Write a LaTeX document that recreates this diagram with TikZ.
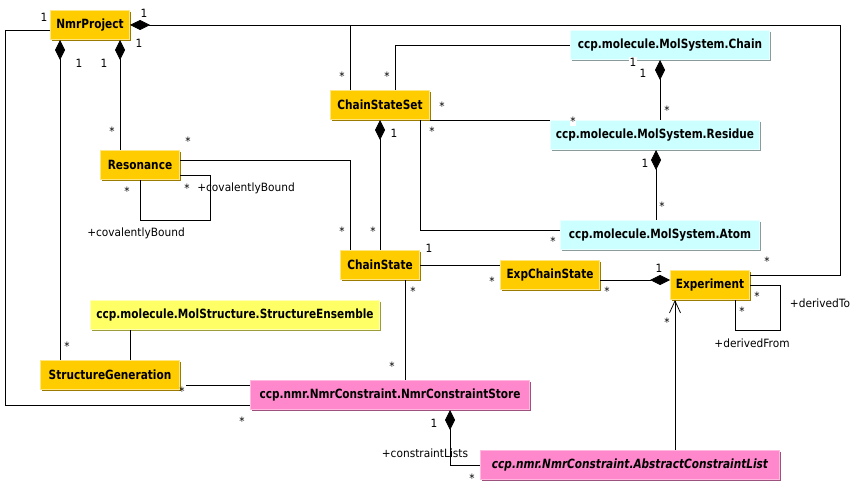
\documentclass[tikz,border=0pt]{standalone}
\usepackage{fontspec}
\setmainfont{DejaVu Sans}
\newfontfamily\boxfont{DejaVu Sans}[FakeStretch=0.83]
\newfontfamily\lblfont{DejaVu Sans}[FakeStretch=0.93]
\usetikzlibrary{arrows.meta,shadows}

\definecolor{classFill}{HTML}{FFCC00}
\definecolor{classLight}{HTML}{FFE680}
\definecolor{classDark}{HTML}{9C7C00}
\definecolor{molFill}{HTML}{CCFFFF}
\definecolor{molLight}{HTML}{EAFFFF}
\definecolor{molDark}{HTML}{8A9B9B}
\definecolor{ensFill}{HTML}{FFFF66}
\definecolor{ensLight}{HTML}{FFFFB8}
\definecolor{ensDark}{HTML}{9C9C3A}
\definecolor{nmrFill}{HTML}{FF88CC}
\definecolor{nmrLight}{HTML}{FFB8E0}
\definecolor{nmrDark}{HTML}{9C527C}

\tikzset{
    box/.style 2 args={fill=#1Fill, draw=#1Light, line width=1pt,
        general shadow={fill=#1Dark, shadow xshift=1.5pt, shadow yshift=-1.5pt},
        minimum width=#2, minimum height=29pt, inner sep=2pt,
        font=\boxfont\bfseries\fontsize{12.7}{14}\selectfont},
    lbl/.style={inner sep=0pt, font=\lblfont\fontsize{11.4}{13}\selectfont},
    link/.style={line width=0.75pt},
    comp/.style={link, {Diamond[length=20pt,width=10pt]}-},
    gen/.style={link, -{Straight Barb[length=12pt,width=11pt]}},
}

\begin{document}
\begin{tikzpicture}[x=1pt, y=-1pt]

    \useasboundingbox (0,0) rectangle (865,495);

    % classes
    \node[box={class}{79pt}] (nmrProject) at (90,25) {NmrProject};
    \node[box={class}{99pt}] (chainStateSet) at (380,105) {ChainStateSet};
    \node[box={mol}{199pt}] (chain) at (670,45) {ccp.molecule.MolSystem.Chain};
    \node[box={mol}{209pt}] (residue) at (655,135) {ccp.molecule.MolSystem.Residue};
    \node[box={class}{79pt}] (resonance) at (140,165) {Resonance};
    \node[box={class}{79pt}] (chainState) at (380,265) {ChainState};
    \node[box={mol}{199pt}] (atom) at (660,235) {ccp.molecule.MolSystem.Atom};
    \node[box={class}{99pt}] (expChainState) at (550,275) {ExpChainState};
    \node[box={class}{79pt}] (experiment) at (710,285) {Experiment};
    \node[box={ens}{289pt}] (ensemble) at (235,315) {ccp.molecule.MolStructure.StructureEnsemble};
    \node[box={class}{139pt}] (structGen) at (110,375) {StructureGeneration};
    \node[box={nmr}{279pt}] (constraintStore) at (390,395) {ccp.nmr.NmrConstraint.NmrConstraintStore};
    \node[box={nmr}{299pt}] (constraintList) at (630,465) {\itshape ccp.nmr.NmrConstraint.AbstractConstraintList};

    % associations
    \draw[comp] (nmrProject.east) -| (840,275) -- ([yshift=10pt]experiment.east);
    \draw[link] ([xshift=-30pt]chainStateSet.north) -- ([xshift=-30pt]chainStateSet.north |- nmrProject.east);
    \draw[link] ([yshift=-5pt]nmrProject.west) -| (5,405) -- ([yshift=-10pt]constraintStore.west);
    \draw[comp] ([xshift=-30pt]nmrProject.south) -- ([xshift=-50pt]structGen.north);
    \draw[comp] ([xshift=30pt]nmrProject.south) -- ([xshift=-20pt]resonance.north);
    \draw[link] ([xshift=15pt]chainStateSet.north) |- (chain.west);
    \draw[link] (chainStateSet.south east) -- (residue.north west);
    \draw[comp] (chainStateSet.south) -- (chainState.north);
    \draw[link] ([xshift=40pt]chainStateSet.south) |- ([yshift=5pt]atom.west);
    \draw[comp] ([xshift=-10pt]chain.south) -- ([xshift=5pt]residue.north);
    \draw[comp] ([xshift=1pt]residue.south) -- ([xshift=-4pt]atom.north);
    \draw[link] ([yshift=5pt]resonance.east) -| ([xshift=-30pt]chainState.north);
    \draw[link] ([yshift=-10pt]resonance.east) -| (210,220) -| (resonance.south);
    \draw[link] (chainState.east) -- ([yshift=10pt]expChainState.west);
    \draw[link] ([xshift=25pt]chainState.south) -- ([xshift=15pt]constraintStore.north);
    \draw[comp] ([yshift=5pt]experiment.west) -- ([yshift=-5pt]expChainState.east);
    \draw[link] (experiment.east) -| (780,330) -| ([xshift=25pt]experiment.south);
    \draw[gen] ([xshift=45pt]constraintList.north) -- ([xshift=-35pt]experiment.south);
    \draw[comp] ([xshift=60pt]constraintStore.south) |- (constraintList.west);
    \draw[link] ([xshift=-105pt]ensemble.south) -- ([xshift=20pt]structGen.north);
    \draw[link, shorten <=6pt] ([yshift=-10pt]structGen.east) -- ([yshift=10pt]constraintStore.west);

    % multiplicities and roles
    \node[lbl] at (44,17) {1};
    \node[lbl] at (144,13) {1};
    \node[lbl] at (139,43) {1};
    \node[lbl] at (79,63) {1};
    \node[lbl] at (104,63) {1};
    \node[lbl] at (112,131) {*};
    \node[lbl] at (188,141) {*};
    \node[lbl] at (342,76) {*};
    \node[lbl] at (387,76) {*};
    \node[lbl] at (442,106) {*};
    \node[lbl] at (394,133) {1};
    \node[lbl] at (432,131) {*};
    \node[lbl, fill=white, inner sep=0.5pt] at (633,62) {1};
    \node[lbl] at (643,73) {1};
    \node[lbl] at (667,110) {*};
    \node[lbl, fill=white, inner sep=0.5pt] at (573,121) {*};
    \node[lbl] at (645,163) {1};
    \node[lbl] at (662,206) {*};
    \node[lbl] at (553,241) {*};
    \node[lbl] at (429,248) {1};
    \node[lbl] at (492,281) {*};
    \node[lbl] at (413,291) {*};
    \node[lbl] at (607,291) {*};
    \node[lbl] at (659,268) {1};
    \node[lbl] at (767,261) {*};
    \node[lbl] at (757,296) {*};
    \node[lbl] at (820,303) {+derivedTo};
    \node[lbl] at (742,311) {*};
    \node[lbl] at (752,343) {+derivedFrom};
    \node[lbl] at (667,322) {*};
    \node[lbl] at (187,188) {*};
    \node[lbl] at (246,188) {+covalentlyBound};
    \node[lbl] at (127,191) {*};
    \node[lbl] at (136,233) {+covalentlyBound};
    \node[lbl] at (342,231) {*};
    \node[lbl] at (373,231) {*};
    \node[lbl] at (67,346) {*};
    \node[lbl] at (392,366) {*};
    \node[lbl] at (182,391) {*};
    \node[lbl] at (242,421) {*};
    \node[lbl] at (434,423) {1};
    \node[lbl] at (425,453) {+constraintLists};
    \node[lbl] at (472,478) {*};

\end{tikzpicture}
\end{document}
